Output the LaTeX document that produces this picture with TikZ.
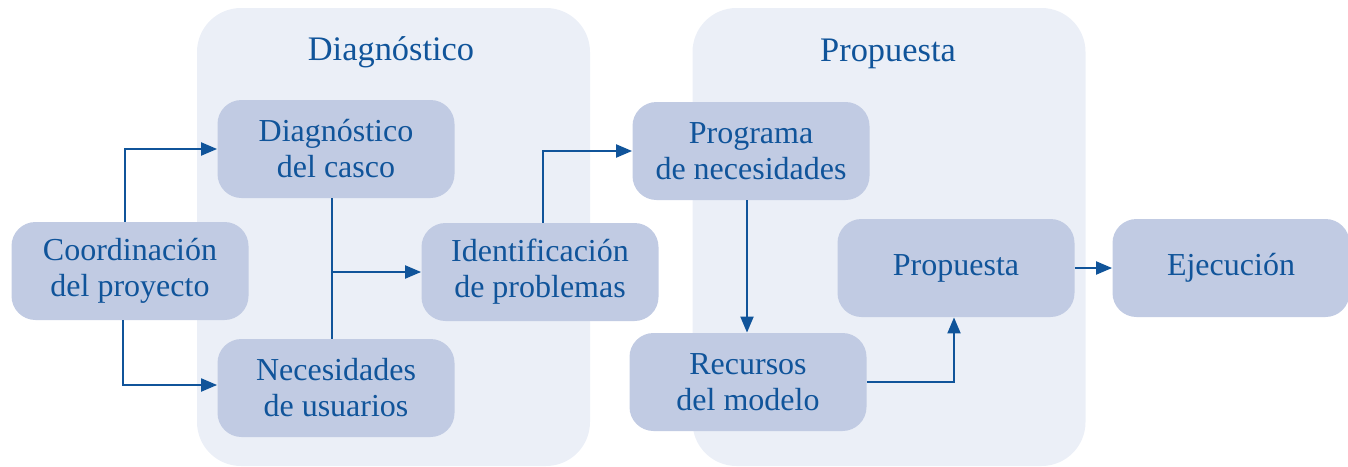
\documentclass[tikz,border=0pt]{standalone}
\usepackage{fontspec}
\setmainfont{Liberation Serif}
\usetikzlibrary{arrows.meta,calc}
\definecolor{ink}{HTML}{10549A}
\definecolor{boxfill}{HTML}{C1CBE3}
\definecolor{panelfill}{HTML}{EBEFF7}
\begin{document}
\begin{tikzpicture}[x=0.5pt,y=-0.5pt,
  panel/.style={fill=panelfill,draw=none,rounded corners=22pt,inner sep=0pt,minimum width=196.5pt,minimum height=229pt},
  ptitle/.style={text=ink,font=\fontsize{17.2}{20}\selectfont,inner sep=0pt},
  box/.style={fill=boxfill,draw=none,rounded corners=12pt,inner sep=0pt,minimum width=118.5pt,minimum height=49pt,align=center,text=ink,font=\fontsize{16}{18}\selectfont},
  arr/.style={draw=ink,line width=1pt,-{Triangle[length=8pt,width=6.5pt]}},
  ln/.style={draw=ink,line width=1pt}]
\useasboundingbox (0,0) rectangle (1348,466);
% panels
\node[panel] (p1) at (393.5,237) {};
\node[panel] (p2) at (889,237) {};
\node[ptitle] (t1) at (391,52) {Diagnóstico};
\node[ptitle] (t2) at (888,54) {Propuesta};
% boxes
\node[box] (coord) at (130,271) {Coordinación\\del proyecto};
\node[box] (casco) at (336,149) {Diagnóstico\\del casco};
\node[box] (necus) at (336,388) {Necesidades\\de usuarios};
\node[box] (ident) at (540,272) {Identificación\\de problemas};
\node[box] (prog) at (751,151) {Programa\\de necesidades};
\node[box] (recur) at (748,382) {Recursos\\del modelo};
\node[box] (prop) at (956,268) {Propuesta};
\node[box] (ejec) at (1231,268) {Ejecución};
% connectors
\draw[arr] ([xshift=-2.5pt]coord.north) |- (casco.west);
\draw[arr] ([xshift=-3.5pt]coord.south) |- ([yshift=1.5pt]necus.west);
\path ([xshift=-2pt]casco.south) coordinate (cs);
\path ([xshift=-2pt]necus.north) coordinate (nn);
\draw[ln] (cs) -- (nn);
\coordinate (br) at (cs |- ident.west);
\draw[arr] (br) -- (ident.west);
\draw[arr] ([xshift=1.5pt]ident.north) |- (prog.west);
\path ([xshift=-2pt]prog.south) coordinate (ps);
\draw[arr] (ps) -- (ps |- recur.north);
\draw[arr] (recur.east) -| ([xshift=-1pt]prop.south);
\draw[arr] (prop.east) -- (ejec.west);
\end{tikzpicture}
\end{document}
